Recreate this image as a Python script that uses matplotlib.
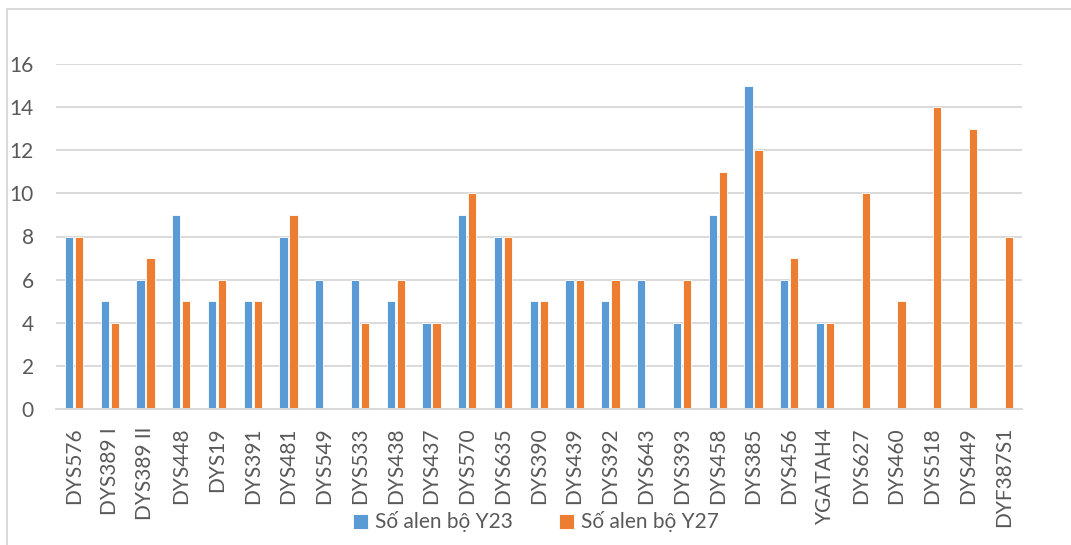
import matplotlib
matplotlib.use("Agg")
import matplotlib.pyplot as plt
import numpy as np
from matplotlib.lines import Line2D

plt.rcParams['font.family'] = ['Lato', 'DejaVu Sans']

markers = ["DYS576", "DYS389 I", "DYS389 II", "DYS448", "DYS19", "DYS391",
           "DYS481", "DYS549", "DYS533", "DYS438", "DYS437", "DYS570",
           "DYS635", "DYS390", "DYS439", "DYS392", "DYS643", "DYS393",
           "DYS458", "DYS385", "DYS456", "YGATAH4", "DYS627", "DYS460",
           "DYS518", "DYS449", "DYF387S1"]
y23 = [8, 5, 6, 9, 5, 5, 8, 6, 6, 5, 4, 9, 8, 5, 6, 5, 6, 4, 9, 15, 6, 4,
       0, 0, 0, 0, 0]
y27 = [8, 4, 7, 5, 6, 5, 9, 0, 4, 6, 4, 10, 8, 5, 6, 6, 0, 6, 11, 12, 7, 4,
       10, 5, 14, 13, 8]
series_names = ["Số alen bộ Y23", "Số alen bộ Y27"]
y_ticks = [0, 2, 4, 6, 8, 10, 12, 14, 16]

BLUE = "#5B9BD5"
ORANGE = "#ED7D31"
GRID = "#D9D9D9"
TEXT = "#595959"

W, H = 1071, 545
fig = plt.figure(figsize=(W / 100, H / 100), dpi=100)
ax = fig.add_axes([56 / W, 1 - 409 / H, (1021.7 - 56) / W, (409 - 64) / H])

x = np.arange(len(markers))
bw = 0.23
ax.bar(x - 0.14, y23, bw, color=BLUE, edgecolor="white", linewidth=0.6,
       label=series_names[0], zorder=3)
ax.bar(x + 0.14, y27, bw, color=ORANGE, edgecolor="white", linewidth=0.6,
       label=series_names[1], zorder=3)

ax.set_xlim(-0.5, len(markers) - 0.5)
ax.set_ylim(0, 16)
ax.set_yticks(y_ticks)
ax.set_yticklabels([str(v) for v in y_ticks])
ax.set_xticks(x)
ax.set_xticklabels(markers, rotation=90, va="top", ha="center")
ax.tick_params(axis="both", length=0, colors=TEXT, labelsize=15)
ax.tick_params(axis="x", pad=13)
ax.tick_params(axis="y", pad=16)
ax.yaxis.grid(True, color=GRID, linewidth=1.4, zorder=0)
ax.set_axisbelow(True)
for s in ["top", "right", "left"]:
    ax.spines[s].set_visible(False)
ax.spines["bottom"].set_color(GRID)
ax.spines["bottom"].set_linewidth(1.4)
ax.spines["bottom"].set_zorder(4)

leg = fig.legend(loc="center", bbox_to_anchor=(536 / W, 1 - 522 / H), ncol=2,
                 frameon=False, fontsize=15, handlelength=0.7,
                 handleheight=0.7, handletextpad=0.35, columnspacing=2.2)
for t in leg.get_texts():
    t.set_color(TEXT)

# chart border
fig.add_artist(Line2D([7 / W, 1.0], [1 - 9 / H, 1 - 9 / H], color=GRID,
                      linewidth=1.4, transform=fig.transFigure))
fig.add_artist(Line2D([7 / W, 7 / W], [0.0, 1 - 9 / H], color=GRID,
                      linewidth=1.4, transform=fig.transFigure))

fig.savefig("out.png", dpi=100, facecolor="white")
